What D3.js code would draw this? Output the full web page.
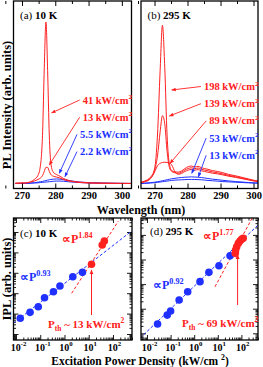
<!DOCTYPE html>
<html>
<head>
<meta charset="utf-8">
<script src="https://cdn.jsdelivr.net/npm/d3@7/dist/d3.min.js"></script>
<style>
body { margin: 0; background: #fff; }
svg text { font-family: "Liberation Serif", "Times New Roman", serif; font-weight: bold; }
</style>
</head>
<body>
<div id="chart"></div>
<script>
// ---- (a) spectra at 10 K ----
var wlA = [268, 271, 272.5, 273.7, 274.8, 275.6, 276.2, 276.7, 277.2, 277.7, 278.2, 278.7, 279.4, 280.4, 281.4, 282.4, 283.9, 285.4, 287.4, 290.4, 294, 298, 304];
var a41 = [0.002, 0.004, 0.01, 0.025, 0.05, 0.12, 0.32, 0.72, 1.0, 0.7, 0.3, 0.12, 0.07, 0.055, 0.045, 0.032, 0.02, 0.013, 0.008, 0.004, 0.002, 0.001, 0];
var a13 = [0.001, 0.003, 0.008, 0.015, 0.025, 0.035, 0.05, 0.075, 0.1, 0.1, 0.075, 0.055, 0.045, 0.04, 0.034, 0.025, 0.016, 0.011, 0.006, 0.003, 0.002, 0.001, 0];
var a5 = [0, 0.001, 0.002, 0.005, 0.008, 0.011, 0.013, 0.016, 0.018, 0.021, 0.023, 0.025, 0.027, 0.028, 0.027, 0.024, 0.019, 0.014, 0.009, 0.005, 0.002, 0.001, 0];
var a2 = [0, 0.001, 0.002, 0.003, 0.004, 0.006, 0.007, 0.008, 0.009, 0.01, 0.011, 0.012, 0.014, 0.015, 0.015, 0.014, 0.011, 0.008, 0.006, 0.003, 0.002, 0.001, 0];

// ---- (b) spectra at 295 K ----
var wlB = [265, 267, 268.8, 270, 270.9, 271.7, 272.4, 273.1, 273.8, 274.5, 275.2, 276.2, 277.2, 278.2, 279.2, 280.2, 281.2, 282.2, 283.2, 284.2, 285.2, 286.2, 287.5, 289, 290.5, 292.5, 294.5, 296.5, 298.5, 300.5, 303];
var b198 = [0.005, 0.015, 0.04, 0.09, 0.3, 0.7, 0.98, 0.72, 0.3, 0.12, 0.08, 0.072, 0.07, 0.078, 0.092, 0.104, 0.108, 0.102, 0.106, 0.098, 0.092, 0.088, 0.08, 0.075, 0.068, 0.056, 0.048, 0.038, 0.028, 0.018, 0.01];
var b139 = [0.004, 0.012, 0.035, 0.08, 0.17, 0.32, 0.42, 0.37, 0.2, 0.1, 0.075, 0.066, 0.063, 0.07, 0.083, 0.093, 0.097, 0.092, 0.096, 0.088, 0.083, 0.079, 0.072, 0.067, 0.06, 0.05, 0.042, 0.033, 0.024, 0.016, 0.009];
var b89 = [0.003, 0.01, 0.03, 0.07, 0.11, 0.125, 0.13, 0.132, 0.13, 0.127, 0.115, 0.072, 0.057, 0.062, 0.074, 0.083, 0.087, 0.083, 0.086, 0.079, 0.074, 0.07, 0.064, 0.06, 0.054, 0.045, 0.038, 0.03, 0.022, 0.014, 0.008];
var b53 = [0, 0.002, 0.005, 0.008, 0.011, 0.014, 0.017, 0.02, 0.023, 0.026, 0.029, 0.032, 0.035, 0.037, 0.039, 0.04, 0.041, 0.04, 0.039, 0.037, 0.034, 0.031, 0.027, 0.024, 0.02, 0.016, 0.012, 0.009, 0.006, 0.004, 0.002];
var b13 = [0, 0.001, 0.003, 0.005, 0.007, 0.009, 0.011, 0.013, 0.015, 0.017, 0.019, 0.021, 0.022, 0.023, 0.024, 0.025, 0.025, 0.025, 0.024, 0.023, 0.021, 0.019, 0.017, 0.015, 0.012, 0.01, 0.008, 0.006, 0.004, 0.002, 0.001];

// labels: text, colour, arrow tip [nm, intensity]
var labelsA = [["41", "r", [278.9, 0.437]], ["13", "r", [278.2, 0.115]], ["5.5", "b", [281.2, 0.063]], ["2.2", "b", [282.9, 0.042]]];
var labelsB = [["198", "r", [275.2, 0.579]], ["139", "r", [274.5, 0.418]], ["89", "r", [274.7, 0.125]], ["53", "b", [281.3, 0.063]], ["13", "b", [283.3, 0.042]]];

// ---- (c) integrated PL at 10 K ----
var cBlueP = [0.015, 0.038, 0.083, 0.15, 0.35, 0.65, 2.2, 5.5];
var cBlueI = [59, 115, 218, 600, 1180, 2240, 6450, 10500];
var cRedP = [13, 36, 44];
var cRedI = [26300, 229000, 363000];
var cFitBlue = [[0.0077, 33], [668, 1.26e6]];
var cFitRed = [[1.98, 990], [166, 3.4e6]];
var cTh = [[13, 85], [13, 13800]];

// ---- (d) integrated PL at 295 K ----
var dBlueP = [0.028, 0.072, 0.10, 0.23, 0.53, 1.76, 4.2, 11.2, 33];
var dBlueI = [24, 55, 81, 225, 490, 1260, 3000, 5600, 14100];
var dRedP = [55, 57, 63, 74, 87, 102, 119];
var dRedI = [17800, 24300, 33000, 45500, 56000, 66000, 72500];
var dFitBlue = [[0.00505, 6.3], [505, 251000]];
var dFitRed = [[7.6, 783], [319, 585000]];
var dTh = [[69, 141], [69, 16000]];

var RED = "#ff2020", BLUE = "#2030ff";
var col = {r: RED, b: BLUE};

var svg = d3.select("#chart").append("svg")
	.attr("width", 263).attr("height", 367);

var defs = svg.append("defs");
["r", "b"].forEach(function(k) {
	defs.append("marker").attr("id", "ah" + k)
		.attr("viewBox", "0 0 10 10").attr("refX", 9).attr("refY", 5)
		.attr("markerWidth", 5).attr("markerHeight", 5)
		.attr("orient", "auto")
		.append("path").attr("d", "M0,1L10,5L0,9z").attr("fill", col[k]);
});

// text with sub/superscripts: parts = [[str, "sup"|"sub"|undefined, weight]]
function rich(g, x, y, parts, size, fill, anchor) {
	var t = g.append("text").attr("x", x).attr("y", y)
		.attr("font-size", size).attr("fill", fill || "#000")
		.attr("text-anchor", anchor || "start");
	var shift = 0;
	parts.forEach(function(p) {
		var s = p[1] == "sup" ? -size * 0.42 : p[1] == "sub" ? size * 0.25 : 0;
		var ts = t.append("tspan").attr("dy", s - shift).text(p[0]);
		if (p[1]) ts.attr("font-size", size * 0.68);
		if (p[2]) ts.attr("font-weight", p[2]);
		shift = s;
	});
	return t;
}

function frame(g, box) {
	g.append("rect").attr("x", box.x0).attr("y", box.y0)
		.attr("width", box.x1 - box.x0).attr("height", box.y1 - box.y0)
		.attr("fill", "none").attr("stroke", "#000").attr("stroke-width", 1.3);
}

function clip(id, box) {
	defs.append("clipPath").attr("id", id).append("rect")
		.attr("x", box.x0).attr("y", box.y0)
		.attr("width", box.x1 - box.x0).attr("height", box.y1 - box.y0);
}

function spectraPanel(box, xdom, wl, curves, labels, tag, temp, id) {
	var g = svg.append("g");
	var x = d3.scaleLinear().domain(xdom).range([box.x0, box.x1]);
	var y = d3.scaleLinear().domain([-0.031, 1.13]).range([box.y1, box.y0]);
	clip(id, box);

	var line = d3.line()
		.x(function(d, i) { return x(wl[i]); })
		.y(function(d) { return y(d); })
		.curve(d3.curveMonotoneX);

	var gc = g.append("g").attr("clip-path", "url(#" + id + ")");
	curves.forEach(function(c) {
		gc.append("path").datum(c[0]).attr("d", line)
			.attr("fill", "none").attr("stroke", col[c[1]]).attr("stroke-width", 1);
	});

	// ticks inward, top and bottom
	var minor = d3.range(265, 305, 5).filter(function(v) { return v % 10 != 0; });
	var major = [270, 280, 290, 300];
	[[d3.axisBottom, box.y0], [d3.axisTop, box.y1]].forEach(function(a) {
		g.append("g").attr("transform", "translate(0," + a[1] + ")")
			.call(a[0](x).tickValues(major).tickSize(5).tickFormat(""))
			.call(function(s) { s.select(".domain").remove(); });
		g.append("g").attr("transform", "translate(0," + a[1] + ")")
			.call(a[0](x).tickValues(minor).tickSize(3).tickFormat(""))
			.call(function(s) { s.select(".domain").remove(); });
	});
	g.selectAll(".tick line").attr("stroke-width", 1);

	g.append("g").attr("transform", "translate(0," + box.y1 + ")")
		.call(d3.axisBottom(x).tickValues(major).tickSize(0).tickPadding(3))
		.call(function(s) {
			s.select(".domain").remove();
			s.selectAll("text").attr("font-size", 10.5).attr("fill", "#000")
				.attr("font-family", null);
		});

	frame(g, box);

	var tg = g.append("text").attr("x", box.x0 + 6.5).attr("y", 19).attr("font-size", 11);
	tg.append("tspan").attr("font-weight", "normal").text(tag + " ");
	tg.append("tspan").text(temp);

	labels.forEach(function(l, i) {
		var by = (id == "ca" ? 103.5 : 90) + i * 17.2;
		var t = rich(g, box.x1 + 0.5, by, [[l[0] + " kW/cm"], ["2", "sup"]], 10.5, col[l[1]], "end");
		var bb = t.node().getBBox();
		g.append("line")
			.attr("x1", bb.x - 3).attr("y1", by - 3.5)
			.attr("x2", x(l[2][0])).attr("y2", y(l[2][1]))
			.attr("stroke", col[l[1]]).attr("stroke-width", 0.9)
			.attr("marker-end", "url(#ah" + l[1] + ")");
	});
}

function logPanel(box, xexp, yexp, blue, red, fitB, fitR, th, tag, temp, nB, nR, pth, pos, id) {
	var g = svg.append("g");
	var x = d3.scaleLog().domain([Math.pow(10, xexp[0]), Math.pow(10, xexp[1])]).range([box.x0, box.x1]);
	var y = d3.scaleLog().domain([Math.pow(10, yexp[0]), Math.pow(10, yexp[1])]).range([box.y1, box.y0]);
	clip(id, box);

	var isMajor = function(v) { return Math.abs(Math.log10(v) - Math.round(Math.log10(v))) < 1e-6; };
	var xt = x.ticks(), yt = y.ticks();
	var axes = [
		[d3.axisTop, x, xt, "translate(0," + box.y1 + ")"],
		[d3.axisBottom, x, xt, "translate(0," + box.y0 + ")"],
		[d3.axisRight, y, yt, "translate(" + box.x0 + ",0)"],
		[d3.axisLeft, y, yt, "translate(" + box.x1 + ",0)"]
	];
	axes.forEach(function(a) {
		[true, false].forEach(function(mj) {
			g.append("g").attr("transform", a[3])
				.call(a[0](a[1]).tickValues(a[2].filter(function(v) { return isMajor(v) == mj; }))
					.tickSize(mj ? 5 : 2.5).tickFormat(""))
				.call(function(s) { s.select(".domain").remove(); });
		});
	});
	g.selectAll(".tick line").attr("stroke-width", 0.9);

	// decade labels
	xt.filter(isMajor).forEach(function(v) {
		rich(g, x(v) - 5.3, box.y1 + 10.5, [["10"], [String(Math.round(Math.log10(v))), "sup"]], 10);
	});

	var gc = g.append("g").attr("clip-path", "url(#" + id + ")");
	var ln = d3.line().x(function(d) { return x(d[0]); }).y(function(d) { return y(d[1]); });
	gc.append("path").datum(fitB).attr("d", ln).attr("stroke", BLUE)
		.attr("stroke-width", 1).attr("stroke-dasharray", "3,2").attr("fill", "none");
	gc.append("path").datum(fitR).attr("d", ln).attr("stroke", RED)
		.attr("stroke-width", 1).attr("stroke-dasharray", "3,2").attr("fill", "none");

	gc.append("path").datum(th).attr("d", ln).attr("stroke", RED)
		.attr("stroke-width", 1).attr("marker-end", "url(#ahr)");

	gc.selectAll(".pb").data(d3.zip(blue[0], blue[1])).enter().append("circle")
		.attr("cx", function(d) { return x(d[0]); }).attr("cy", function(d) { return y(d[1]); })
		.attr("r", 3.8).attr("fill", BLUE);
	gc.selectAll(".pr").data(d3.zip(red[0], red[1])).enter().append("circle")
		.attr("cx", function(d) { return x(d[0]); }).attr("cy", function(d) { return y(d[1]); })
		.attr("r", 3.8).attr("fill", RED);

	frame(g, box);

	var tg = g.append("text").attr("x", pos.tag[0]).attr("y", pos.tag[1]).attr("font-size", 11);
	tg.append("tspan").attr("font-weight", "normal").text(tag + " ");
	tg.append("tspan").text(temp);

	rich(g, pos.nR[0], pos.nR[1], [["\u221dP"], [nR, "sup"]], 12, RED);
	rich(g, pos.nB[0], pos.nB[1], [["\u221dP"], [nB, "sup"]], 12, BLUE);
	rich(g, pos.pth[0], pos.pth[1], [["P"], ["th", "sub"], [" ~ " + pth + " kW/cm"], ["2", "sup"]], 11, RED);
}

spectraPanel({x0: 13.5, x1: 131.5, y0: 1, y1: 188.5}, [267.45, 302.9], wlA,
	[[a2, "b"], [a5, "b"], [a13, "r"], [a41, "r"]], labelsA, "(a)", "10 K", "ca");
spectraPanel({x0: 141, x1: 258, y0: 1, y1: 188.5}, [265.9, 301.36], wlB,
	[[b13, "b"], [b53, "b"], [b89, "r"], [b139, "r"], [b198, "r"]], labelsB, "(b)", "295 K", "cb");

logPanel({x0: 13.5, x1: 132, y0: 218, y1: 340}, [-2.103, 2.784], [0.706, 6.686],
	[cBlueP, cBlueI], [cRedP, cRedI], cFitBlue, cFitRed, cTh, "(c)", "10 K", "0.93", "1.84", "13",
	{tag: [20, 236.5], nR: [62, 243], nB: [20, 281], pth: [48, 328]}, "cc");
logPanel({x0: 141, x1: 258, y0: 218, y1: 340}, [-2.254, 2.703], [0.728, 5.687],
	[dBlueP, dBlueI], [dRedP, dRedI], dFitBlue, dFitRed, dTh, "(d)", "295 K", "0.92", "1.77", "69",
	{tag: [150, 235], nR: [203, 240], nB: [153, 289], pth: [182, 327]}, "cd");

// axis titles
svg.append("text").attr("x", 141).attr("y", 213.5).attr("text-anchor", "middle")
	.attr("font-size", 12).text("Wavelength (nm)");
rich(svg, 140, 364.5, [["Excitation Power Density (kW/cm "], ["2", "sup"], [")"]], 11.5, "#000", "middle");
svg.append("text").attr("transform", "translate(11,105) rotate(-90)")
	.attr("text-anchor", "middle").attr("font-size", 12.5).text("PL Intensity (arb. units)");
svg.append("text").attr("transform", "translate(11,279) rotate(-90)")
	.attr("text-anchor", "middle").attr("font-size", 12.5).text("IPL (arb. units)");
</script>
</body>
</html>
